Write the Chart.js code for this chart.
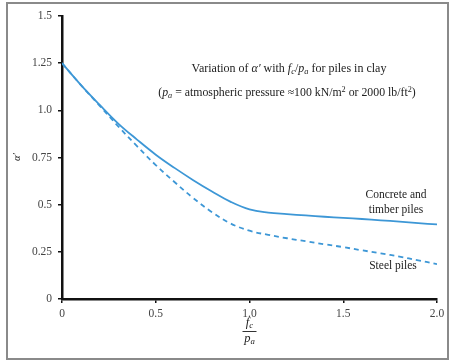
<!DOCTYPE html>
<html>
<head>
<meta charset="utf-8">
<script src="https://cdn.jsdelivr.net/npm/chart.js@4"></script>
<style>
  html, body { margin: 0; padding: 0; background: #fff; }
  #wrap { position: relative; width: 450px; height: 360px; }
  #frame { position: absolute; left: 6px; top: 2px; width: 439px; height: 354px; border: 2px solid #8a8a8a; pointer-events: none; }
</style>
</head>
<body>
<div id="wrap">
  <canvas id="chart" width="450" height="360"></canvas>
  <div id="frame"></div>
</div>
<script>
// f_c / p_a values
const ratios = [0, 0.1, 0.2, 0.3, 0.4, 0.5, 0.6, 0.7, 0.8, 0.9, 1.0, 1.1, 1.2, 1.3, 1.4, 1.5, 1.6, 1.7, 1.8, 1.9, 2.0];
// alpha'
const concreteTimber = [1.25, 1.135, 1.03, 0.93, 0.845, 0.765, 0.695, 0.63, 0.57, 0.515, 0.475, 0.458, 0.45, 0.443, 0.436, 0.43, 0.424, 0.417, 0.41, 0.402, 0.395];
const steel = [1.25, 1.135, 1.025, 0.915, 0.81, 0.71, 0.62, 0.535, 0.46, 0.40, 0.362, 0.34, 0.322, 0.306, 0.29, 0.275, 0.258, 0.242, 0.225, 0.205, 0.185];

const yTicks = [0, 0.25, 0.5, 0.75, 1.0, 1.25, 1.5];
const yTickLabels = ["0", "0.25", "0.5", "0.75", "1.0", "1.25", "1.5"];
const xTicks = [0, 0.5, 1.0, 1.5, 2.0];
const xTickLabels = ["0", "0.5", "1.0", "1.5", "2.0"];

const blue = "#3d97d6";
const serif = "'Liberation Serif', 'DejaVu Serif', serif";

function pts(ys) {
    return ratios.map((x, i) => ({ x: x, y: ys[i] }));
}

// draw a run of text pieces, each with optional italic / small / vertical shift
function drawRich(ctx, x, y, parts, size, align) {
    let total = 0;
    const widths = parts.map(p => {
        const s = p.small ? size * 0.7 : size;
        ctx.font = (p.italic ? "italic " : "") + s + "px " + serif;
        const w = ctx.measureText(p.t).width;
        total += w;
        return w;
    });
    let cx = align === "center" ? x - total / 2 : x;
    parts.forEach((p, i) => {
        const s = p.small ? size * 0.7 : size;
        ctx.font = (p.italic ? "italic " : "") + s + "px " + serif;
        ctx.fillText(p.t, cx, y + (p.dy || 0));
        cx += widths[i];
    });
}

const annotations = {
    id: "annotations",
    afterDraw(chart) {
        const ctx = chart.ctx;
        ctx.save();
        ctx.fillStyle = "#222";
        ctx.textBaseline = "alphabetic";
        ctx.textAlign = "left";

        drawRich(ctx, 289, 72, [
            { t: "Variation of " },
            { t: "α′", italic: true },
            { t: " with " },
            { t: "f", italic: true },
            { t: "c", italic: true, small: true, dy: 2 },
            { t: "/" },
            { t: "p", italic: true },
            { t: "a", italic: true, small: true, dy: 2 },
            { t: " for piles in clay" }
        ], 12, "center");

        drawRich(ctx, 287, 96, [
            { t: "(" },
            { t: "p", italic: true },
            { t: "a", italic: true, small: true, dy: 2 },
            { t: " = atmospheric pressure ≈100 kN/m" },
            { t: "2", small: true, dy: -4 },
            { t: " or 2000 lb/ft" },
            { t: "2", small: true, dy: -4 },
            { t: ")" }
        ], 11.8, "center");

        ctx.font = "11.5px " + serif;
        ctx.textAlign = "center";
        ctx.fillText("Concrete and", 396, 198);
        ctx.fillText("timber piles", 396, 213);
        ctx.fillText("Steel piles", 393, 269);

        // x axis title: f_c over p_a
        const xs = chart.scales.x;
        const cx = xs.getPixelForValue(1.0);
        ctx.textAlign = "left";
        drawRich(ctx, cx, 326, [
            { t: "f", italic: true },
            { t: "c", italic: true, small: true, dy: 2 }
        ], 12.5, "center");
        ctx.strokeStyle = "#333";
        ctx.lineWidth = 1;
        ctx.beginPath();
        ctx.moveTo(cx - 7, 331.5);
        ctx.lineTo(cx + 7, 331.5);
        ctx.stroke();
        drawRich(ctx, cx, 342, [
            { t: "p", italic: true },
            { t: "a", italic: true, small: true, dy: 2 }
        ], 12.5, "center");

        // y axis title
        ctx.translate(17, 157);
        ctx.rotate(-Math.PI / 2);
        ctx.textAlign = "center";
        ctx.font = "italic 10.5px " + serif;
        ctx.fillText("α′", 0, 3);
        ctx.restore();
    }
};

new Chart(document.getElementById("chart"), {
    type: "line",
    data: {
        datasets: [
            {
                label: "Concrete and timber piles",
                data: pts(concreteTimber),
                borderColor: blue,
                borderWidth: 1.8,
                pointRadius: 0,
                tension: 0.4,
                fill: false
            },
            {
                label: "Steel piles",
                data: pts(steel),
                borderColor: blue,
                borderWidth: 1.8,
                borderDash: [5, 4],
                pointRadius: 0,
                tension: 0.4,
                fill: false
            }
        ]
    },
    options: {
        responsive: false,
        animation: false,
        layout: { padding: { left: 8, right: 13, top: 16, bottom: 8 } },
        plugins: {
            legend: { display: false },
            tooltip: { enabled: false }
        },
        scales: {
            x: {
                type: "linear",
                min: 0,
                max: 2.0,
                afterBuildTicks: s => { s.ticks = xTicks.map(v => ({ value: v })); },
                afterFit: s => { s.height = 53; },
                border: { color: "#111", width: 2.5 },
                grid: { display: true, drawOnChartArea: false, drawTicks: true, tickLength: 4, color: "#111", lineWidth: 1.5 },
                ticks: {
                    color: "#444",
                    padding: 4,
                    maxRotation: 0,
                    font: { family: serif, size: 11.5 },
                    callback: v => xTickLabels[xTicks.indexOf(v)]
                }
            },
            y: {
                type: "linear",
                min: 0,
                max: 1.5,
                afterBuildTicks: s => { s.ticks = yTicks.map(v => ({ value: v })); },
                afterFit: s => { s.width = 54; },
                border: { color: "#111", width: 2.5 },
                grid: { display: true, drawOnChartArea: false, drawTicks: true, tickLength: 4, color: "#111", lineWidth: 1.5 },
                ticks: {
                    color: "#444",
                    padding: 6,
                    font: { family: serif, size: 11.5 },
                    callback: v => yTickLabels[yTicks.indexOf(v)]
                }
            }
        }
    },
    plugins: [annotations]
});
</script>
</body>
</html>
